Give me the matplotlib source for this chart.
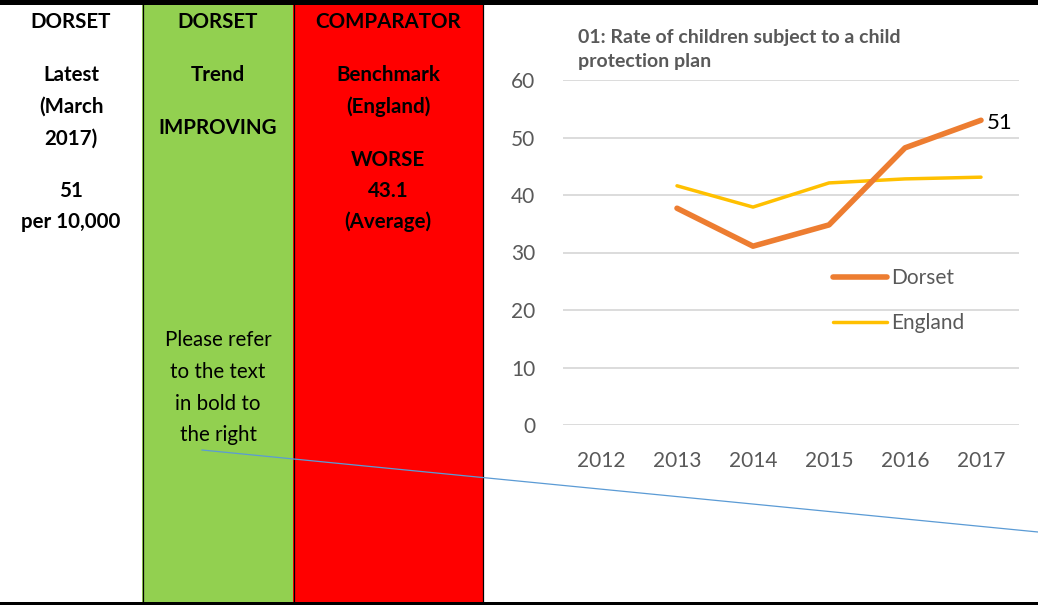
import matplotlib.pyplot as plt
from matplotlib.patches import Rectangle

# chart data
years = ['2012', '2013', '2014', '2015', '2016', '2017']
dorset = [None, 37.7, 31.1, 34.8, 48.2, 53.0]
england = [None, 41.6, 37.9, 42.1, 42.8, 43.1]
dorset_label = '51'

# table text (one block per column)
col1_bold = [('DORSET', 22), ('Latest', 75), ('(March', 107), ('2017)', 139),
             ('51', 191), ('per 10,000', 222)]
col2_bold = [('DORSET', 22), ('Trend', 75), ('IMPROVING', 128)]
col2_norm = [('Please refer', 340), ('to the text', 372), ('in bold to', 404), ('the right', 435)]
col3_bold = [('COMPARATOR', 22), ('Benchmark', 75), ('(England)', 107), ('WORSE', 160),
             ('43.1', 191), ('(Average)', 222)]

W, H = 1038, 605
fig = plt.figure(figsize=(W / 100, H / 100), dpi=100)

# background layer in pixel coordinates
bg = fig.add_axes([0, 0, 1, 1])
bg.set_xlim(0, W)
bg.set_ylim(H, 0)
bg.axis('off')

bg.add_patch(Rectangle((142, 0), 151, H, color='#92D050', lw=0))
bg.add_patch(Rectangle((293, 0), 190, H, color='#FF0000', lw=0))
for x in [142.5, 293.5, 483]:
    bg.plot([x, x], [0, H], color='black', lw=0.9)
bg.add_patch(Rectangle((0, 0), W, 4.5, color='black', lw=0))
bg.add_patch(Rectangle((0, 601.5), W, 4, color='black', lw=0))

fam = ['Lato', 'DejaVu Sans']
fs = 14.8
for txt, y in col1_bold:
    bg.text(71, y, txt, ha='center', va='center', fontsize=fs, fontweight='bold', family=fam)
for txt, y in col2_bold:
    bg.text(218, y, txt, ha='center', va='center', fontsize=fs, fontweight='bold', family=fam)
for txt, y in col2_norm:
    bg.text(218, y, txt, ha='center', va='center', fontsize=fs, family=fam)
for txt, y in col3_bold:
    bg.text(388, y, txt, ha='center', va='center', fontsize=fs, fontweight='bold', family=fam)

# connector line
bg.plot([202, 1038], [450, 532], color='#5B9BD5', lw=0.9)

# chart
ax = fig.add_axes([563 / W, (H - 425) / H, 456 / W, 345 / H])
ax.set_facecolor('none')
x = list(range(len(years)))
xd = [i for i, v in zip(x, dorset) if v is not None]
yd = [v for v in dorset if v is not None]
xe = [i for i, v in zip(x, england) if v is not None]
ye = [v for v in england if v is not None]
ax.plot(xd, yd, color='#ED7D31', lw=4, solid_capstyle='round', label='Dorset', zorder=3)
ax.plot(xe, ye, color='#FFC000', lw=2.5, solid_capstyle='round', label='England', zorder=2)
ax.text(xd[-1] + 0.07, yd[-1] - 0.5, dorset_label, ha='left', va='center', fontsize=16, family=fam)

ax.set_xlim(-0.5, len(years) - 0.5)
ax.set_ylim(0, 60)
ax.set_yticks(range(0, 61, 10))
ax.set_xticks(x)
ax.set_xticklabels(years)
ax.yaxis.grid(True, color='#D9D9D9', lw=1.3)
ax.set_axisbelow(True)
for s in ax.spines.values():
    s.set_visible(False)
ax.tick_params(length=0, labelsize=15, labelcolor='#595959', pad=20)
ax.tick_params(axis='x', pad=19)
for lab in ax.get_xticklabels() + ax.get_yticklabels():
    lab.set_family(fam)

ax.legend(loc='center left', bbox_to_anchor=(0.592, 0.361), frameon=False,
          labelcolor='#595959', handlelength=2.6, handletextpad=0.2, labelspacing=1.2,
          borderpad=0, borderaxespad=0, prop={'family': fam, 'size': 15})

fig.text(578 / W, 1 - 37 / H, '01: Rate of children subject to a child',
         fontsize=14, fontweight='bold', color='#595959', va='center', family=fam)
fig.text(578 / W, 1 - 62 / H, 'protection plan',
         fontsize=14, fontweight='bold', color='#595959', va='center', family=fam)

fig.savefig('out.png', dpi=100)
